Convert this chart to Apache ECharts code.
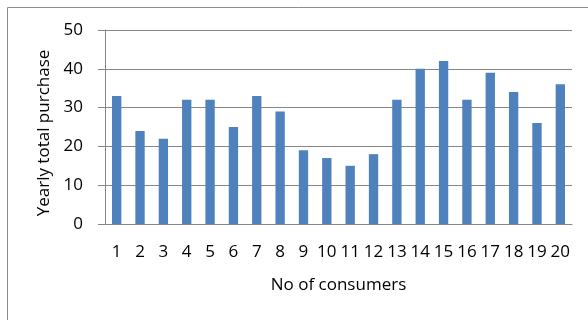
<!DOCTYPE html>
<html>
<head>
    <meta charset="utf-8">
    <script src="https://cdn.jsdelivr.net/npm/echarts@6/dist/echarts.min.js"></script>
</head>
<body style="margin:0;">
    <div id="main" style="width:588px; height:320px;"></div>
</body>
	<script type="text/javascript">
        var myChart = echarts.init(document.getElementById('main'));
		var consumers = ['1','2','3','4','5','6','7','8','9','10','11','12','13','14','15','16','17','18','19','20'];
		var purchase = [33, 24, 22, 32, 32, 25, 33, 29, 19, 17, 15, 18, 32, 40, 42, 32, 39, 34, 26, 36];
		var font = '"Open Sans", sans-serif';
      	var option = {
			animation: false,
			backgroundColor: '#fff',
			graphic: [{
				type: 'rect',
				shape: { x: 7.5, y: 7.5, width: 600, height: 330 },
				style: { fill: 'none', stroke: '#8c8c8c', lineWidth: 1 }
			}],
			grid: { left: 105, right: 16, top: 30, bottom: 96 },
			xAxis: {
				type: 'category',
				data: consumers,
				name: 'No of consumers',
				nameLocation: 'middle',
				nameGap: 53,
				nameTextStyle: { fontFamily: font, fontSize: 17, color: '#000' },
				axisLine: { lineStyle: { color: '#868686' } },
				axisTick: { show: false },
				axisLabel: { interval: 0, margin: 20, fontFamily: font, fontSize: 17, color: '#000' }
			},
			yAxis: {
				type: 'value',
				min: 0,
				max: 50,
				interval: 10,
				name: 'Yearly total purchase',
				nameLocation: 'middle',
				nameGap: 48,
				nameTextStyle: { fontFamily: font, fontSize: 17, color: '#000', padding: [0, 12, 0, 0] },
				axisLine: { show: true, lineStyle: { color: '#868686' } },
				axisTick: { show: true, length: 7, lineStyle: { color: '#868686' } },
				axisLabel: { margin: 22, fontFamily: font, fontSize: 17, color: '#000' },
				splitLine: { lineStyle: { color: '#868686' } }
			},
			series: [{
				type: 'bar',
				data: purchase,
				barWidth: '40%',
				itemStyle: { color: '#4F81BD' }
			}]
		};
        myChart.setOption(option);
    </script>
</html>
